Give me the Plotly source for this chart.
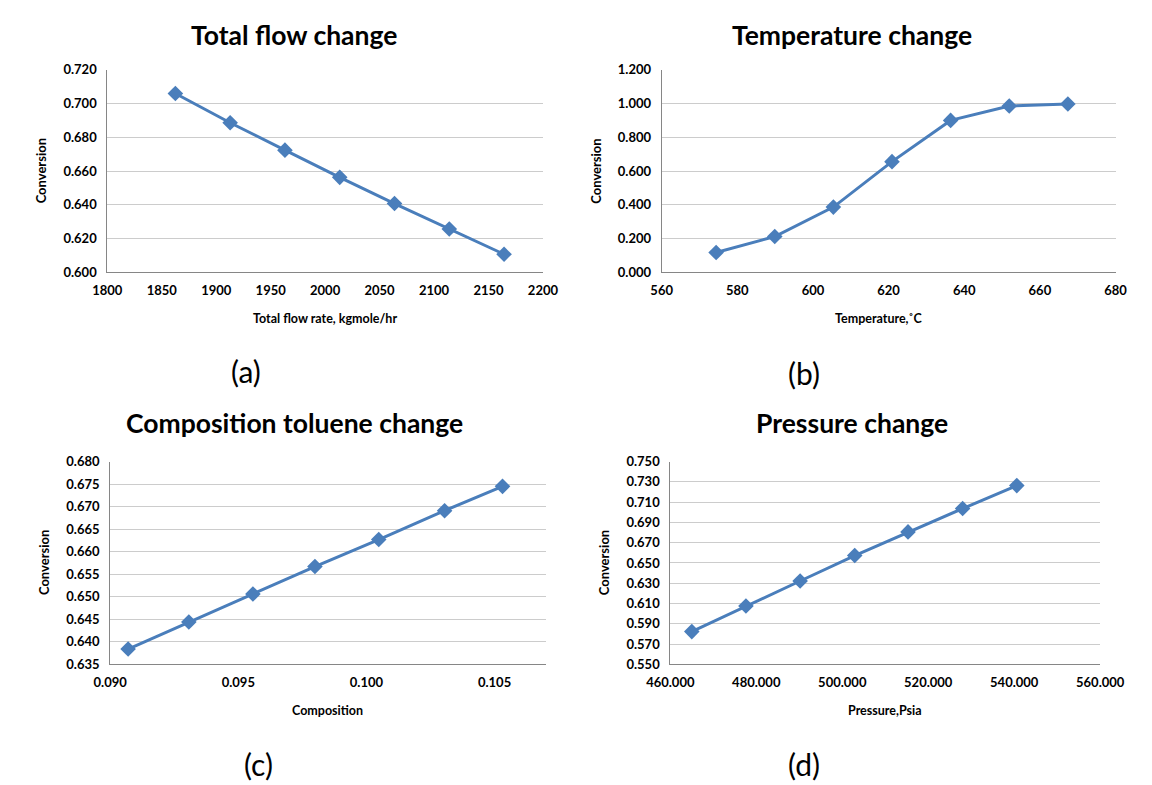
import plotly.graph_objects as go

W, H = 1152, 785

# ---- data ----
flow_rate = [1862.5, 1912.8, 1963.1, 2013.4, 2063.7, 2114.0, 2164.3]
flow_conv = [0.7059, 0.6886, 0.6724, 0.6563, 0.6408, 0.6257, 0.6108]

temperature = [574.4, 589.9, 605.4, 620.9, 636.4, 651.9, 667.4]
temp_conv = [0.118, 0.213, 0.387, 0.656, 0.900, 0.985, 0.997]

composition = [0.0907, 0.09307, 0.09557, 0.09799, 0.10048, 0.10305, 0.10531]
comp_conv = [0.6384, 0.6444, 0.6506, 0.6567, 0.6627, 0.6691, 0.6745]

pressure = [465.0, 477.6, 490.2, 502.9, 515.3, 528.0, 540.6]
press_conv = [0.5823, 0.6076, 0.6322, 0.6573, 0.6806, 0.7037, 0.7263]

titles = ["Total flow change", "Temperature change",
          "Composition toluene change", "Pressure change"]
x_titles = ["Total flow rate, kgmole/hr", "Temperature,˚C", "Composition", "Pressure,Psia"]
y_title = "Conversion"
panel_labels = ["(a)", "(b)", "(c)", "(d)"]

LINE = "#4A7EBB"
FONT = "Lato"

def px_x(p):
    return p / W

def px_y(p):
    return 1 - p / H

# plot boxes in pixels (left, right, top, bottom)
boxes = [
    (87, 542, 63, 270),
    (666, 1140, 63, 270),
    (90, 545, 463, 670),
    (675, 1124, 463, 670),
]
title_pos = [(282, 28), (865, 28), (282, 424), (865, 424)]
label_pos = [(232, 371), (815, 373), (245, 772), (815, 772)]
xtitle_dx = [0, -10, 0, 0]

series = [(flow_rate, flow_conv), (temperature, temp_conv),
          (composition, comp_conv), (pressure, press_conv)]

xaxes = [
    dict(range=[1800, 2200], dtick=50, tick0=1800, tickformat="d"),
    dict(range=[560, 680], dtick=20, tick0=560, tickformat="d"),
    dict(range=[0.090, 0.107], dtick=0.005, tick0=0.090, tickformat=".3f"),
    dict(range=[460, 560], dtick=20, tick0=460, tickformat=".3f"),
]
yaxes = [
    dict(range=[0.600, 0.720], dtick=0.020, tick0=0.600, tickformat=".3f"),
    dict(range=[0.0, 1.2], dtick=0.2, tick0=0.0, tickformat=".3f"),
    dict(range=[0.635, 0.680], dtick=0.005, tick0=0.635, tickformat=".3f"),
    dict(range=[0.550, 0.750], dtick=0.020, tick0=0.550, tickformat=".3f"),
]

fig = go.Figure()
layout = dict(
    width=W, height=H, margin=dict(l=0, r=0, t=0, b=0),
    paper_bgcolor="white", plot_bgcolor="white", showlegend=False,
    font=dict(family=FONT, color="black"),
)
annotations = []
tick_font = dict(family=FONT, size=13, color="#000000", weight="bold")

for i, ((xs, ys), (l, r, t, b)) in enumerate(zip(series, boxes)):
    n = "" if i == 0 else str(i + 1)
    fig.add_trace(go.Scatter(
        x=xs, y=ys, mode="lines+markers",
        xaxis="x" + n, yaxis="y" + n,
        line=dict(color=LINE, width=3),
        marker=dict(symbol="diamond", size=12, color=LINE),
    ))
    xa = dict(domain=[px_x(l), px_x(r)], anchor="y" + n,
              showgrid=False, zeroline=False, showline=True,
              linecolor="#868686", linewidth=1, ticks="",
              tickfont=tick_font, ticklabelstandoff=6)
    xa.update(xaxes[i])
    ya = dict(domain=[px_y(b), px_y(t)], anchor="x" + n,
              showgrid=True, gridcolor="#CCCCCC", gridwidth=1,
              zeroline=False, showline=True, linecolor="#868686",
              linewidth=1, ticks="", tickfont=tick_font, ticklabelstandoff=7)
    ya.update(yaxes[i])
    layout["xaxis" + n] = xa
    layout["yaxis" + n] = ya

    cx = (l + r) / 2
    # chart title
    annotations.append(dict(text=titles[i], x=px_x(title_pos[i][0]),
                            y=px_y(title_pos[i][1]), xref="paper", yref="paper",
                            showarrow=False, xanchor="center", yanchor="middle",
                            font=dict(family=FONT, size=26.5, weight="bold", color="black")))
    # x axis title
    annotations.append(dict(text=x_titles[i], x=px_x(cx + xtitle_dx[i]),
                            y=px_y(b + 47), xref="paper", yref="paper",
                            showarrow=False, xanchor="center", yanchor="middle",
                            font=dict(family=FONT, size=12.5, weight="bold", color="black")))
    # y axis title
    annotations.append(dict(text=y_title, x=px_x(l - 69), y=px_y((t + b) / 2),
                            xref="paper", yref="paper", textangle=-90,
                            showarrow=False, xanchor="center", yanchor="middle",
                            font=dict(family=FONT, size=13, weight="bold", color="black")))
    # panel label
    annotations.append(dict(text=panel_labels[i], x=px_x(label_pos[i][0]),
                            y=px_y(label_pos[i][1]), xref="paper", yref="paper",
                            showarrow=False, xanchor="center", yanchor="middle",
                            font=dict(family=FONT, size=30, color="black")))

layout["annotations"] = annotations
fig.update_layout(**layout)
fig.write_html("out.html")
